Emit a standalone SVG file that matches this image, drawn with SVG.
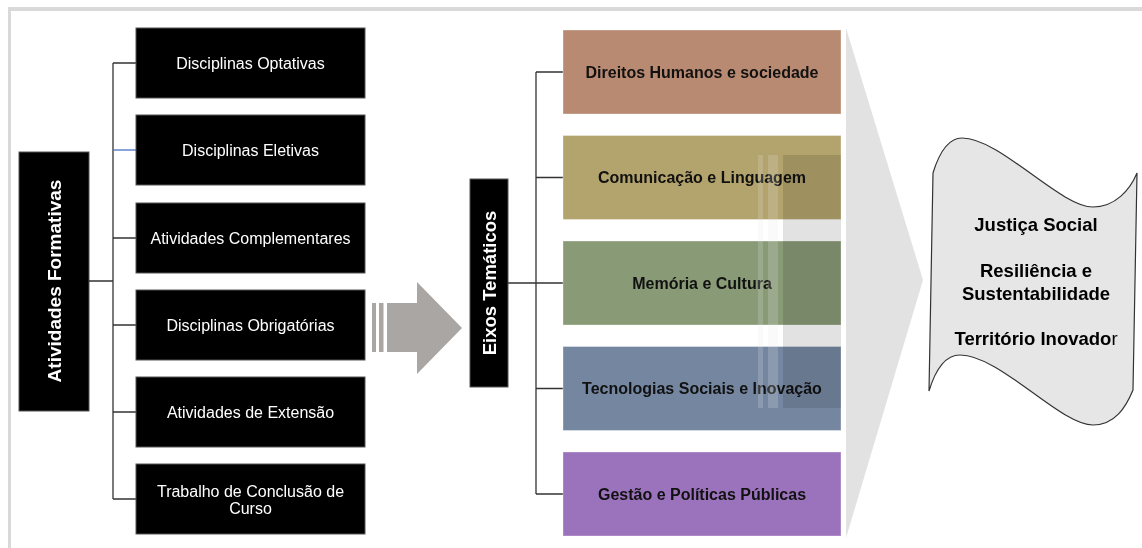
<svg xmlns="http://www.w3.org/2000/svg" width="1142" height="548" viewBox="0 0 1142 548">
<style>
  text { font-family: "Liberation Sans", Arial, sans-serif; }
  .blk { fill: #000000; stroke: #555555; stroke-width: 1; }
  .wt { fill: #ffffff; font-size: 16px; text-anchor: middle; }
  .wtb { fill: #ffffff; font-size: 19px; font-weight: bold; text-anchor: middle; }
  .bt { fill: #111111; font-size: 16px; font-weight: bold; text-anchor: middle; }
  .st { fill: #000000; font-size: 18.5px; font-weight: bold; text-anchor: middle; }
  .conn { fill: none; stroke: #333333; stroke-width: 1.3; }
  .colbox { stroke: #ffffff; stroke-opacity: 0.35; stroke-width: 1; }
  .bigarrow { fill: #e2e2e2; }
</style>
<rect width="1142" height="548" fill="#ffffff"/>
<g id="frame">
  <rect x="8" y="7" width="1134" height="4" fill="#d9d9d9"/>
  <rect x="8" y="7" width="3" height="541" fill="#d9d9d9"/>
</g>

<g id="big-arrow-head">
  <polygon class="bigarrow" points="846,28 923,280 846,538"/>
</g>

<g id="atividades-formativas">
  <rect class="blk" x="19" y="152" width="70" height="259"/>
  <text class="wtb" transform="translate(61,281) rotate(-90)">Atividades Formativas</text>
</g>

<g id="connectors">
  <path class="conn" d="M89,281 H113 M113,63 V499 M113,63 H136 M113,238 H136 M113,325 H136 M113,412 H136 M113,499 H136"/>
  <path fill="none" stroke="#4a72c4" stroke-width="1.3" d="M113,150 H136"/>
  <path class="conn" d="M508,283 H536 M536,72 V494 M536,72 H563 M536,177.5 H563 M536,283 H563 M536,388.5 H563 M536,494 H563"/>
</g>

<g id="disciplinas-optativas">
  <rect class="blk" x="136" y="28" width="229" height="70"/>
  <text class="wt" x="250.5" y="69">Disciplinas Optativas</text>
</g>
<g id="disciplinas-eletivas">
  <rect class="blk" x="136" y="115" width="229" height="70"/>
  <text class="wt" x="250.5" y="156">Disciplinas Eletivas</text>
</g>
<g id="atividades-complementares">
  <rect class="blk" x="136" y="203" width="229" height="70"/>
  <text class="wt" x="250.5" y="244">Atividades Complementares</text>
</g>
<g id="disciplinas-obrigatorias">
  <rect class="blk" x="136" y="290" width="229" height="70"/>
  <text class="wt" x="250.5" y="331">Disciplinas Obrigatórias</text>
</g>
<g id="atividades-extensao">
  <rect class="blk" x="136" y="377" width="229" height="70"/>
  <text class="wt" x="250.5" y="418">Atividades de Extensão</text>
</g>
<g id="tcc">
  <rect class="blk" x="136" y="464" width="229" height="70"/>
  <text class="wt" x="250.5" y="497">Trabalho de Conclusão de</text>
  <text class="wt" x="250.5" y="514">Curso</text>
</g>

<g id="small-arrow" fill="#aaa6a4">
  <rect x="372" y="303" width="4" height="49"/>
  <rect x="379" y="303" width="4.5" height="49"/>
  <polygon points="387,303 417,303 417,282 462,328 417,374 417,352 387,352"/>
</g>

<g id="eixos-tematicos">
  <rect class="blk" x="470" y="179" width="38" height="208"/>
  <text class="wtb" style="font-size:18.5px" transform="translate(495.5,283) rotate(-90)">Eixos Temáticos</text>
</g>

<g id="direitos-humanos">
  <rect class="colbox" x="563" y="30" width="278" height="84" fill="#b98a72"/>
  <text class="bt" x="702" y="77.5">Direitos Humanos e sociedade</text>
</g>
<g id="comunicacao">
  <rect class="colbox" x="563" y="135.5" width="278" height="84" fill="#b3a36c"/>
  <text class="bt" x="702" y="183">Comunicação e Linguagem</text>
</g>
<g id="memoria">
  <rect class="colbox" x="563" y="241" width="278" height="84" fill="#899a76"/>
  <text class="bt" x="702" y="288.5">Memória e Cultura</text>
</g>
<g id="tecnologias">
  <rect class="colbox" x="563" y="346.5" width="278" height="84" fill="#7587a0"/>
  <text class="bt" x="702" y="394">Tecnologias Sociais e Inovação</text>
</g>
<g id="gestao">
  <rect class="colbox" x="563" y="452" width="278" height="84" fill="#9b72bc"/>
  <text class="bt" x="702" y="499.5">Gestão e Políticas Públicas</text>
</g>

<g id="big-arrow-body">
  <rect x="758" y="155" width="5" height="253" fill="#e8e8e8" fill-opacity="0.2"/>
  <rect x="768" y="155" width="10" height="253" fill="#e8e8e8" fill-opacity="0.2"/>
  <rect x="783" y="155" width="58" height="253" fill="#e2e2e2" style="mix-blend-mode:multiply"/>
</g>

<g id="resultados">
  <path d="M933,173 C940,150 950,138 962,138 C1000,138 1060,207 1093,207 C1115,207 1130,190 1137,173 L1133,390 C1126,407 1115,425 1093,425 C1060,425 1000,355 960,355 C946,355 936,368 929,391 Z" fill="#e6e6e6" stroke="#333333" stroke-width="1.2"/>
  <text class="st" x="1036" y="231">Justiça Social</text>
  <text class="st" x="1036" y="277">Resiliência e</text>
  <text class="st" x="1036" y="300">Sustentabilidade</text>
  <text class="st" x="1036" y="345">Território Inovado<tspan font-weight="normal">r</tspan></text>
</g>
</svg>
